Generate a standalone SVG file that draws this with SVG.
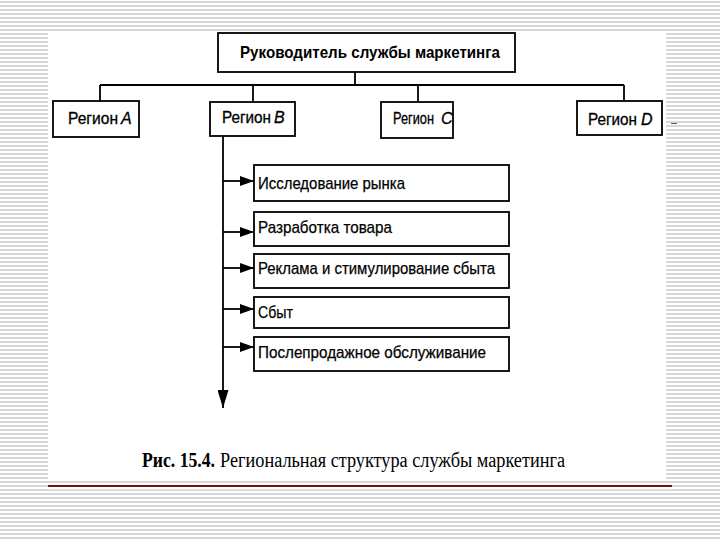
<svg xmlns="http://www.w3.org/2000/svg" width="720" height="540" viewBox="0 0 720 540">
  <defs>
    <pattern id="stripes" x="0" y="0" width="8" height="4" patternUnits="userSpaceOnUse">
      <rect x="0" y="0" width="8" height="4" fill="#ffffff"/>
      <rect x="0" y="1" width="8" height="2" fill="#d6d6d6"/>
    </pattern>
    <marker id="arrowR" viewBox="0 0 14 10" refX="14" refY="5" markerWidth="14" markerHeight="10" markerUnits="userSpaceOnUse" orient="auto">
      <path d="M0,0 L14,5 L0,10 z" fill="#000"/>
    </marker>
    <marker id="arrowD" viewBox="0 0 18 11" refX="18" refY="5.5" markerWidth="18" markerHeight="11" markerUnits="userSpaceOnUse" orient="auto">
      <path d="M0,0 L18,5.5 L0,11 z" fill="#000"/>
    </marker>
  </defs>
  <style>
    .box { fill: #ffffff; stroke: #000; stroke-width: 1.8; }
    .conn { stroke: #000; stroke-width: 1.8; fill: none; }
    .title { font-family: "Liberation Sans", Arial, sans-serif; font-weight: bold; font-size: 17px; fill: #000; }
    .reg { font-family: "Liberation Sans", Arial, sans-serif; font-size: 16px; fill: #000; stroke: #000; stroke-width: 0.3; }
    .it { font-style: italic; }
    .fn { font-family: "Liberation Sans", Arial, sans-serif; font-size: 17px; fill: #000; stroke: #000; stroke-width: 0.25; }
    .cap { font-family: "Liberation Serif", "Times New Roman", serif; font-size: 20px; fill: #000; }
  </style>

  <!-- background -->
  <rect x="0" y="0" width="720" height="540" fill="url(#stripes)"/>
  <rect x="48" y="31" width="618" height="450" fill="#ffffff"/>
  <line x1="48" y1="482.5" x2="672" y2="482.5" stroke="#e9d3d3" stroke-width="1"/>
  <line x1="48" y1="486" x2="672" y2="486" stroke="#6b1616" stroke-width="2"/>
  <line x1="48" y1="489.5" x2="672" y2="489.5" stroke="#dfe8d8" stroke-width="1"/>
  <line x1="671" y1="123.5" x2="677" y2="123.5" stroke="#555" stroke-width="1"/>

  <!-- connectors -->
  <g id="connectors">
    <line class="conn" x1="355" y1="72" x2="355" y2="85"/>
    <line class="conn" x1="100" y1="85" x2="624" y2="85"/>
    <line class="conn" x1="100" y1="85" x2="100" y2="101"/>
    <line class="conn" x1="253" y1="85" x2="253" y2="102"/>
    <line class="conn" x1="418" y1="85" x2="418" y2="102"/>
    <line class="conn" x1="624" y1="85" x2="624" y2="101"/>
    <line class="conn" x1="223" y1="136" x2="223" y2="408" marker-end="url(#arrowD)"/>
    <line class="conn" x1="223" y1="181" x2="254" y2="181" marker-end="url(#arrowR)"/>
    <line class="conn" x1="223" y1="232" x2="254" y2="232" marker-end="url(#arrowR)"/>
    <line class="conn" x1="223" y1="268" x2="254" y2="268" marker-end="url(#arrowR)"/>
    <line class="conn" x1="223" y1="309" x2="254" y2="309" marker-end="url(#arrowR)"/>
    <line class="conn" x1="223" y1="347" x2="254" y2="347" marker-end="url(#arrowR)"/>
  </g>

  <g id="head">
    <rect class="box" x="218" y="33" width="297" height="39"/>
    <text class="title" x="240" y="58" textLength="260" lengthAdjust="spacingAndGlyphs">Руководитель службы маркетинга</text>
  </g>

  <g id="regionA">
    <rect class="box" x="53" y="101" width="86" height="36"/>
    <text class="reg" x="68" y="124" textLength="50" lengthAdjust="spacingAndGlyphs">Регион</text>
    <text class="reg it" x="121" y="124">A</text>
  </g>
  <g id="regionB">
    <rect class="box" x="210" y="102" width="85" height="34"/>
    <text class="reg" x="222" y="123" textLength="49" lengthAdjust="spacingAndGlyphs">Регион</text>
    <text class="reg it" x="274" y="123">B</text>
  </g>
  <g id="regionC">
    <rect class="box" x="381" y="102" width="72" height="36"/>
    <text class="reg" x="393" y="124" font-size="13" textLength="41" lengthAdjust="spacingAndGlyphs">Регион</text>
    <text class="reg it" x="441" y="124" font-size="13.5">C</text>
  </g>
  <g id="regionD">
    <rect class="box" x="577" y="101" width="85" height="34"/>
    <text class="reg" x="588" y="125" textLength="49" lengthAdjust="spacingAndGlyphs">Регион</text>
    <text class="reg it" x="641" y="125">D</text>
  </g>

  <g id="fn1">
    <rect class="box" x="254" y="165" width="255" height="36"/>
    <text class="fn" x="258" y="189" textLength="147" lengthAdjust="spacingAndGlyphs">Исследование рынка</text>
  </g>
  <g id="fn2">
    <rect class="box" x="254" y="212" width="255" height="34"/>
    <text class="fn" x="258" y="233" textLength="134" lengthAdjust="spacingAndGlyphs">Разработка товара</text>
  </g>
  <g id="fn3">
    <rect class="box" x="254" y="254" width="255" height="34"/>
    <text class="fn" x="258" y="274" textLength="237" lengthAdjust="spacingAndGlyphs">Реклама и стимулирование сбыта</text>
  </g>
  <g id="fn4">
    <rect class="box" x="254" y="297" width="255" height="31"/>
    <text class="fn" x="258" y="318" textLength="35" lengthAdjust="spacingAndGlyphs">Сбыт</text>
  </g>
  <g id="fn5">
    <rect class="box" x="254" y="337" width="255" height="34"/>
    <text class="fn" x="258" y="358" textLength="228" lengthAdjust="spacingAndGlyphs">Послепродажное обслуживание</text>
  </g>

  <g id="caption">
    <text class="cap" x="142" y="467" font-weight="bold" textLength="73" lengthAdjust="spacingAndGlyphs">Рис. 15.4.</text>
    <text class="cap" x="220" y="467" textLength="345" lengthAdjust="spacingAndGlyphs">Региональная структура службы маркетинга</text>
  </g>
</svg>
